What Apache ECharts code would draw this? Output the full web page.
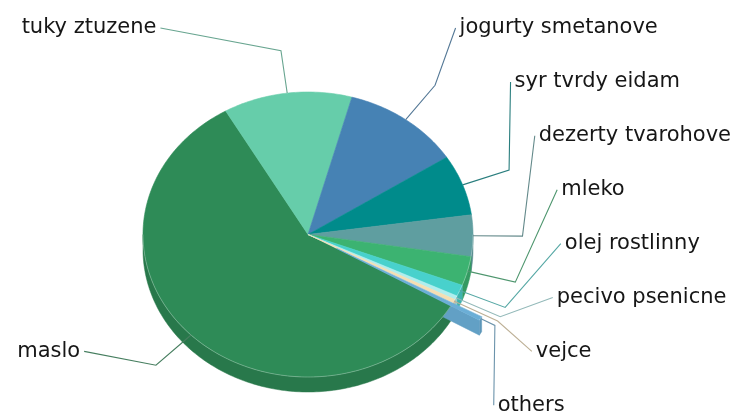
<!DOCTYPE html>
<html>
<head>
<meta charset="utf-8">
<script src="https://cdn.jsdelivr.net/npm/echarts@6/dist/echarts.min.js"></script>
<style>
  html, body { margin: 0; padding: 0; background: #ffffff; }
  #chart { width: 734px; height: 414px; }
</style>
</head>
<body>
<div id="chart"></div>
<script>
// Share of each food item (percent)
const categories = [
  'maslo', 'tuky ztuzene', 'jogurty smetanove', 'syr tvrdy eidam',
  'dezerty tvarohove', 'mleko', 'olej rostlinny', 'pecivo psenicne',
  'vejce', 'others'
];
const shares = [58.3, 12.6, 11.6, 6.9, 4.7, 3.3, 1.3, 0.45, 0.4, 0.45];
const explodedItems = ['others'];

// Slice colours
const palette = [
  '#2e8b57', '#66cdaa', '#4682b4', '#008b8b', '#5f9ea0',
  '#3cb371', '#48d1cc', '#afeeee', '#f5deb3', '#6baed6'
];

// Label row per slice (rows are stacked top to bottom on each side)
const labelRows = [6, 0, 0, 1, 2, 3, 4, 5, 6, 7];

// Tilted pie geometry
const WIDTH = 734;
const CX = 308, CY = 234.5, RX = 165, RY = 142.5, DEPTH = 15;
const START_ANGLE = 120.2;      // degrees, clockwise from 12 o'clock
const EXPLODE = 0.2;            // offset as a fraction of the radius
const ELBOW = 1.3;              // leader elbow radius factor
const LABEL_R = 253;            // labels sit on this circle around the centre
const ROW_TOP = 29, ROW_STEP = 53.9;
const FONT = '21px "DejaVu Sans", Verdana, sans-serif';

const measureCtx = document.createElement('canvas').getContext('2d');
measureCtx.font = FONT;
const textWidth = t => measureCtx.measureText(t).width;

const total = shares.reduce((a, b) => a + b, 0);
let acc = START_ANGLE;
const slices = shares.map((v, i) => {
  const s = acc, e = acc + v / total * 360;
  acc = e;
  const m = (s + e) / 2;
  const ex = explodedItems.includes(categories[i]) ? EXPLODE : 0;
  const mr = m * Math.PI / 180;
  return { s, e, m, ox: ex * RX * Math.sin(mr), oy: -ex * RY * Math.cos(mr), exploded: ex > 0 };
});

function pt(theta, r, ox, oy, depth) {
  const a = theta * Math.PI / 180;
  return [CX + (ox || 0) + r * RX * Math.sin(a), CY + (oy || 0) - r * RY * Math.cos(a) + (depth || 0)];
}
function arc(a, b, r, ox, oy, depth) {
  const pts = [];
  const n = Math.max(2, Math.ceil(Math.abs(b - a) / 1));
  for (let k = 0; k <= n; k++) pts.push(pt(a + (b - a) * k / n, r, ox, oy, depth));
  return pts;
}
function hexRgb(h) {
  const v = parseInt(h.slice(1), 16);
  return [(v >> 16) & 255, (v >> 8) & 255, v & 255];
}
function shade(h, f) {
  const c = hexRgb(h).map(x => Math.round(x * f));
  return 'rgb(' + c.join(',') + ')';
}
function mix(h, g, t) {
  const c = hexRgb(h), d = hexRgb(g);
  return 'rgb(' + c.map((x, k) => Math.round(x * (1 - t) + d[k] * t)).join(',') + ')';
}
// Front-facing parts of an angular range (90..270 deg, repeated every 360)
function frontRanges(s, e) {
  const out = [];
  for (let k = -1; k <= 2; k++) {
    const a = Math.max(s, 90 + 360 * k), b = Math.min(e, 270 + 360 * k);
    if (b > a) out.push([a, b]);
  }
  return out;
}

function renderItem(params) {
  const i = params.dataIndex;
  const sl = slices[i];
  const col = palette[i];
  const children = [];
  const sideCol = shade(col, 0.86);

  // curved outer wall
  frontRanges(sl.s, sl.e).forEach(([a, b]) => {
    const top = arc(a, b, 1, sl.ox, sl.oy, 0);
    const bot = arc(b, a, 1, sl.ox, sl.oy, DEPTH);
    children.push({
      type: 'polygon', z2: sl.exploded ? 2 : 1,
      shape: { points: top.concat(bot) },
      style: { fill: sideCol, stroke: sideCol, lineWidth: 0.5 }
    });
    children.push({
      type: 'polyline', z2: 4,
      shape: { points: top },
      style: { stroke: 'rgba(255,255,255,0.28)', lineWidth: 1, fill: null }
    });
  });

  // radial walls, only for a slice pulled away from the pie
  if (sl.exploded) {
    const apex = pt(0, 0, sl.ox, sl.oy, 0);
    const walls = [];
    if (Math.sin(sl.e * Math.PI / 180) > 0) walls.push(sl.e);
    if (Math.sin(sl.s * Math.PI / 180) < 0) walls.push(sl.s);
    walls.forEach(a => {
      const rim = pt(a, 1, sl.ox, sl.oy, 0);
      children.push({
        type: 'polygon', z2: 2,
        shape: { points: [apex, rim, [rim[0], rim[1] + DEPTH], [apex[0], apex[1] + DEPTH]] },
        style: { fill: shade(col, 0.92), stroke: shade(col, 0.92), lineWidth: 0.5 }
      });
    });
  }

  // top face
  const topPts = [pt(0, 0, sl.ox, sl.oy, 0)].concat(arc(sl.s, sl.e, 1, sl.ox, sl.oy, 0));
  children.push({
    type: 'polygon', z2: 3,
    shape: { points: topPts },
    style: { fill: col, stroke: col, lineWidth: 0.6 }
  });

  // label and leader; labels are kept inside the canvas
  const right = Math.sin(sl.m * Math.PI / 180) >= 0;
  const rowY = ROW_TOP + labelRows[i] * ROW_STEP;
  const dy = rowY - CY;
  const dx = Math.sqrt(Math.max(0, LABEL_R * LABEL_R - dy * dy));
  const tw = textWidth(categories[i]);
  let ax = CX + (right ? dx : -dx);
  if (right) ax = Math.min(ax, WIDTH - 3 - tw - 4);
  else ax = Math.max(ax, 3 + tw + 4);
  const anchor = [ax, rowY - 1];
  const start = pt(sl.m, 1, sl.ox, sl.oy, 0);
  const elbow = pt(sl.m, ELBOW, 0, 0, 0);
  children.push({
    type: 'polyline', z2: 5,
    shape: { points: [start, elbow, anchor] },
    style: { stroke: mix(col, '#6a6a6a', 0.4), lineWidth: 1.1, fill: null }
  });
  children.push({
    type: 'text', z2: 6,
    style: {
      text: categories[i],
      x: anchor[0] + (right ? 4 : -4),
      y: rowY - 1,
      align: right ? 'left' : 'right',
      verticalAlign: 'middle',
      fill: '#161616',
      font: FONT
    }
  });

  return { type: 'group', children };
}

const chart = echarts.init(document.getElementById('chart'), null, { renderer: 'canvas' });
chart.setOption({
  backgroundColor: '#ffffff',
  animation: false,
  series: [{
    type: 'custom',
    coordinateSystem: 'none',
    silent: true,
    renderItem: renderItem,
    data: categories.map((n, i) => ({ name: n, value: shares[i] }))
  }]
});
</script>
</body>
</html>
